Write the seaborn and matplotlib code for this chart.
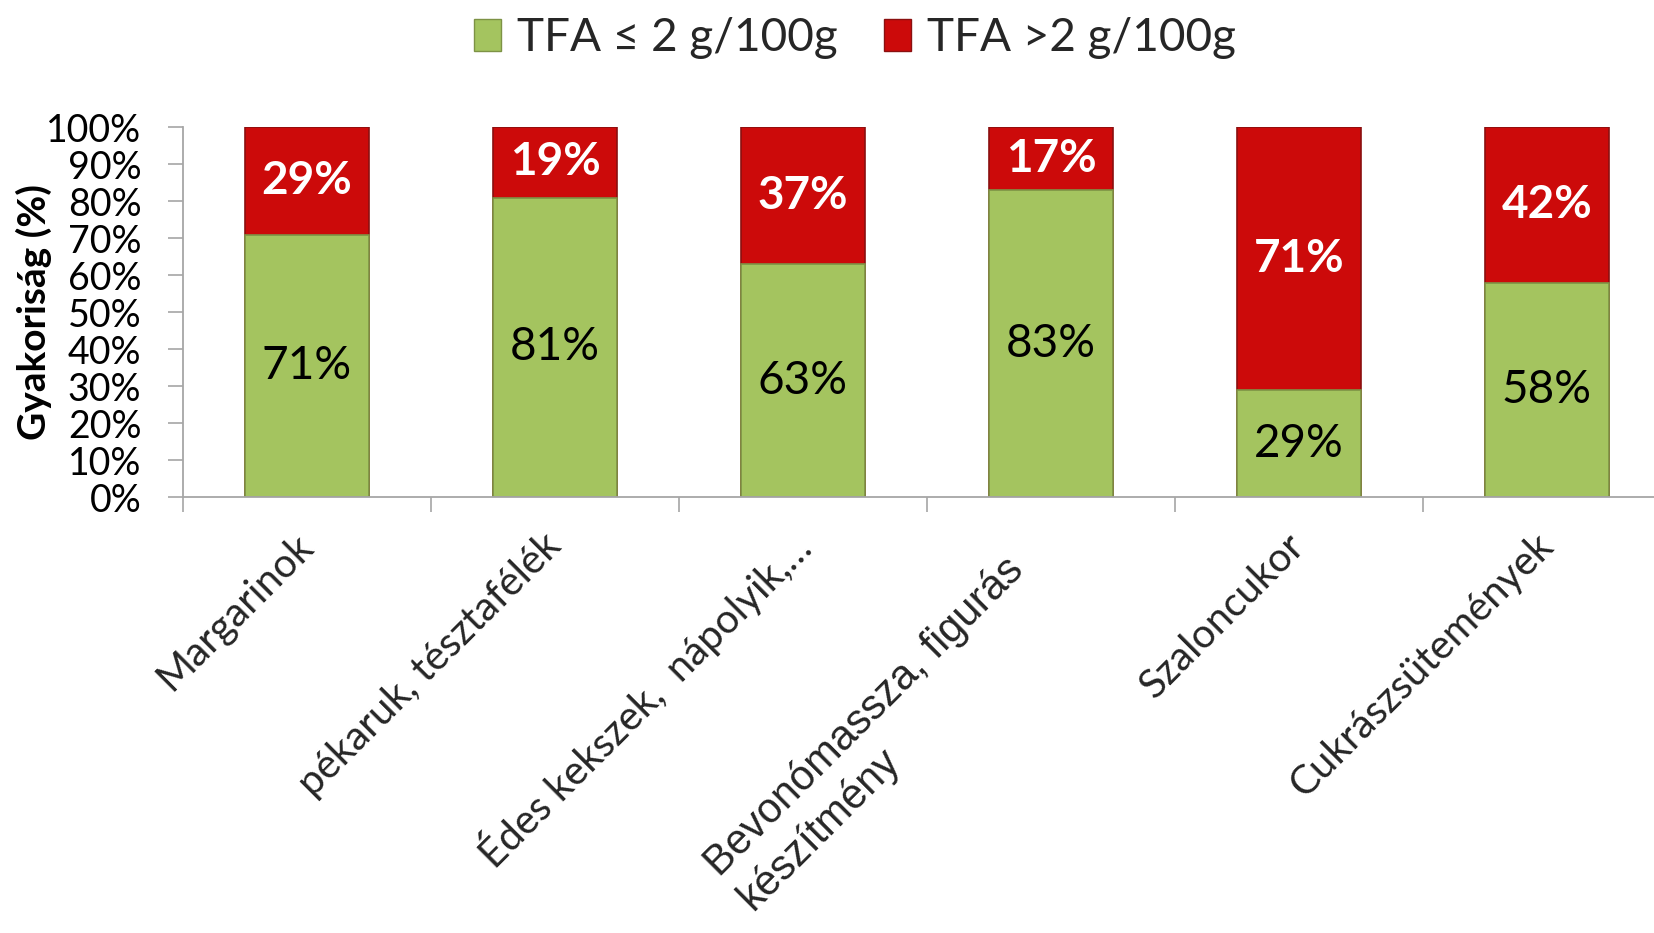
import numpy as np
import pandas as pd
import matplotlib
matplotlib.use("Agg")
import matplotlib.pyplot as plt
import seaborn as sns
from matplotlib.patches import Patch

# adatok
categories = [
    "Margarinok",
    "pékaruk, tésztafélék",
    "Édes kekszek,  nápolyik,…",
    "Bevonómassza, figurás\nkészítmény",
    "Szaloncukor",
    "Cukrászsütemények",
]
low_tfa = [71, 81, 63, 83, 29, 58]    # TFA <= 2 g/100g
high_tfa = [29, 19, 37, 17, 71, 42]   # TFA > 2 g/100g
legend_labels = ["TFA ≤ 2 g/100g", "TFA >2 g/100g"]
y_ticks = [0, 10, 20, 30, 40, 50, 60, 70, 80, 90, 100]

green = "#a4c45f"
red = "#cc0a0a"
grey = "#a6a6a6"

sns.set_theme(style="white")
plt.rcParams['font.family'] = ['Lato', 'DejaVu Sans']

df = pd.DataFrame({'cat': categories, 'low': low_tfa, 'high': high_tfa})
df['total'] = df['low'] + df['high']

fig = plt.figure(figsize=(16.54, 9.33), dpi=100)
ax = fig.add_axes([0.1106, 0.467, 0.8996, 0.3966])

# piros oszlop a teljes magassággal, rá a zöld rész
sns.barplot(data=df, x='cat', y='total', color=red, width=0.5, saturation=1,
            edgecolor="#8a1010", linewidth=1.2, ax=ax)
sns.barplot(data=df, x='cat', y='low', color=green, width=0.5, saturation=1,
            edgecolor="#7d9245", linewidth=1.2, ax=ax)

for i, (lo, hi) in enumerate(zip(low_tfa, high_tfa)):
    ax.text(i, lo / 2, f"{lo}%", ha='center', va='center', fontsize=33, color='black')
    ax.text(i, lo + hi / 2, f"{hi}%", ha='center', va='center', fontsize=33,
            color='white', fontweight='bold')

ax.set_xlim(-0.5, len(categories) - 0.5)
ax.set_ylim(0, 100)
ax.set_yticks(y_ticks)
ax.set_yticklabels([f"{v}%" for v in y_ticks])
ax.set_xticks(range(len(categories)))
ax.set_xticklabels([])
ax.set_xticks(np.arange(-0.5, len(categories), 1), minor=True)
ax.set_xlabel("")

sns.despine(ax=ax)
for s in ['left', 'bottom']:
    ax.spines[s].set_color(grey)
    ax.spines[s].set_linewidth(1.3)

ax.tick_params(axis='y', left=True, direction='out', length=11, width=1.2,
               color=grey, pad=19, labelsize=27, labelcolor='black')
ax.tick_params(axis='x', which='major', bottom=False, length=0)
ax.tick_params(axis='x', which='minor', bottom=True, direction='out', length=11,
               width=1.2, color=grey)

ax.set_ylabel("Gyakoriság (%)", fontsize=28, fontweight='bold', color='black')
ax.yaxis.set_label_coords(-0.088, 0.5)

# ferde kategória feliratok
for i, lab in enumerate(categories):
    if "\n" in lab:
        ax.text(i - 0.07, -0.225, lab, transform=ax.get_xaxis_transform(),
                rotation=45, rotation_mode='anchor', ha='right', va='center',
                multialignment='left', fontsize=30, family='Liberation Sans')
    else:
        ax.text(i, -0.115, lab, transform=ax.get_xaxis_transform(),
                rotation=45, rotation_mode='anchor', ha='right', va='center',
                fontsize=29)

handles = [Patch(facecolor=green, edgecolor="#7d9245"),
           Patch(facecolor=red, edgecolor="#8a1010")]
fig.legend(handles, legend_labels, loc='center', bbox_to_anchor=(0.517, 0.959),
           ncol=2, frameon=False, fontsize=33, handlelength=0.6, handleheight=0.7,
           handletextpad=0.35, columnspacing=1.0)

fig.savefig("out.png", dpi=100)
